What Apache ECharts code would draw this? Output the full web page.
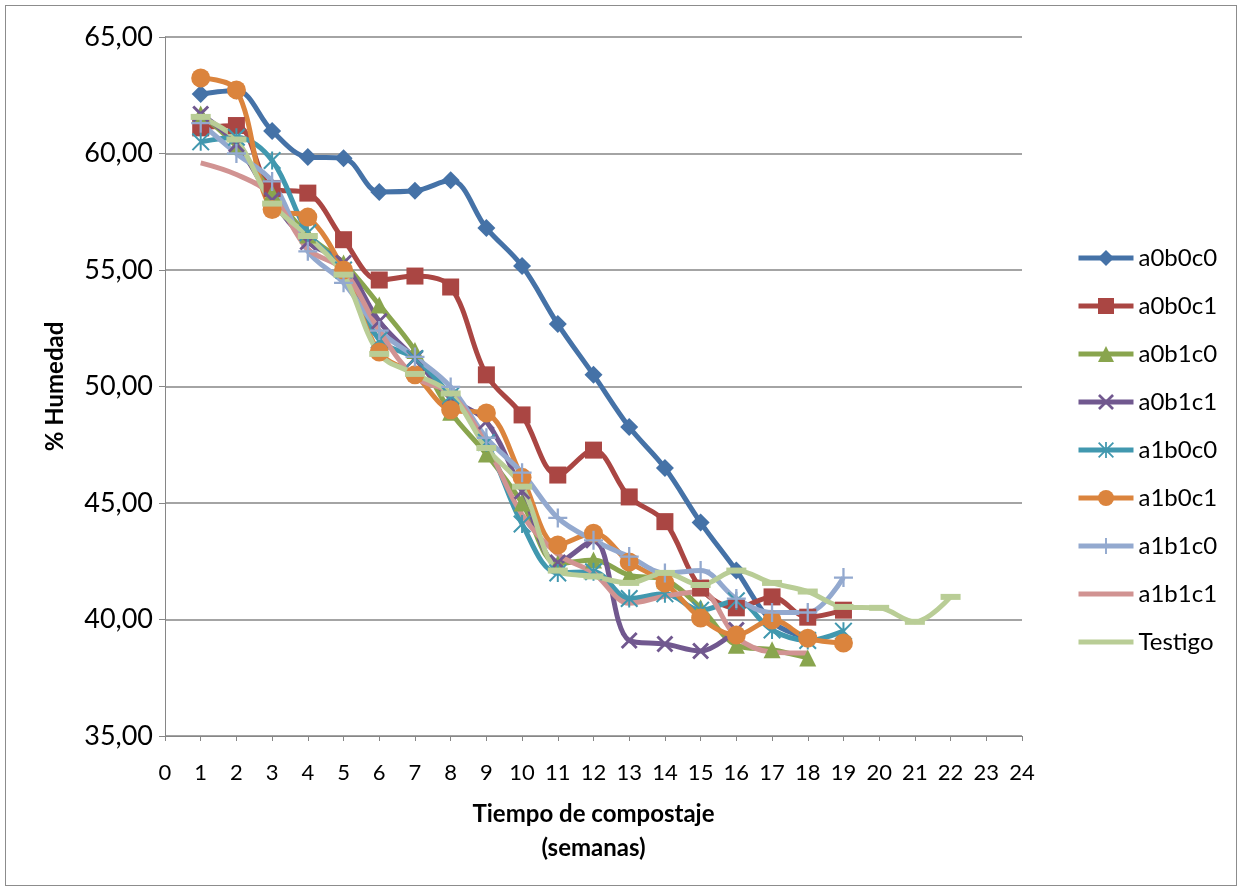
<!DOCTYPE html>
<html>
<head>
<meta charset="utf-8">
<script src="https://cdn.jsdelivr.net/npm/echarts@6/dist/echarts.min.js"></script>
<style>
  html, body { margin: 0; padding: 0; background: #fff; }
  #chart { position: absolute; left: 0; top: 0; width: 1240px; height: 890px; }
  #frame { position: absolute; left: 5px; top: 5px; width: 1230px; height: 879px; border: 1px solid #8c8c8c; pointer-events: none; }
</style>
</head>
<body>
<div id="chart"></div>
<div id="frame"></div>
<script>
// Weekly moisture readings (% Humedad) per treatment; index 0 = week 1
const weeks = [1,2,3,4,5,6,7,8,9,10,11,12,13,14,15,16,17,18,19,20,21,22];

const a0b0c0 = [62.55,62.70,60.97,59.85,59.80,58.35,58.40,58.85,56.80,55.17,52.68,50.50,48.26,46.50,44.16,42.10,39.90,39.20];
const a0b0c1 = [61.10,61.20,58.50,58.30,56.30,54.57,54.74,54.27,50.50,48.78,46.20,47.27,45.26,44.20,41.35,40.50,40.97,40.10,40.40];
const a0b1c0 = [61.70,60.30,58.30,56.50,55.30,53.50,51.55,48.90,47.10,45.00,42.40,42.55,41.90,41.70,40.50,38.90,38.70,38.35];
const a0b1c1 = [61.70,60.40,58.00,56.20,55.30,52.80,51.20,49.50,48.50,45.50,42.45,43.40,39.10,38.95,38.65,39.55];
const a1b0c0 = [60.50,60.70,59.70,56.60,55.00,52.00,51.20,49.60,47.60,44.10,42.00,42.05,40.90,41.10,40.40,40.80,39.55,39.10,39.50];
const a1b0c1 = [63.24,62.73,57.60,57.27,55.00,51.48,50.50,49.00,48.86,46.10,43.20,43.70,42.47,41.57,40.06,39.33,39.98,39.20,38.99];
const a1b1c0 = [61.30,60.00,58.80,55.80,54.45,52.40,51.27,49.98,47.80,46.30,44.36,43.40,42.70,42.00,42.10,40.90,40.30,40.30,41.80];
const a1b1c1 = [59.60,59.10,58.20,55.90,55.00,52.40,50.40,49.70,47.50,44.50,42.80,42.00,40.70,41.00,41.20,39.25,38.60,38.56];
const testigo = [61.57,60.60,57.85,56.46,54.80,51.40,50.54,49.70,47.36,45.70,42.10,41.85,41.57,42.00,41.48,42.10,41.57,41.20,40.54,40.50,39.90,40.97];

const seriesNames = ['a0b0c0','a0b0c1','a0b1c0','a0b1c1','a1b0c0','a1b0c1','a1b1c0','a1b1c1','Testigo'];
const seriesValues = [a0b0c0, a0b0c1, a0b1c0, a0b1c1, a1b0c0, a1b0c1, a1b1c0, a1b1c1, testigo];

const yTicks = [35, 40, 45, 50, 55, 60, 65];
const xTicks = [0,1,2,3,4,5,6,7,8,9,10,11,12,13,14,15,16,17,18,19,20,21,22,23,24];

// Marker shapes
const X_PATH = 'path://M0,1.2L1.2,0L5,3.8L8.8,0L10,1.2L6.2,5L10,8.8L8.8,10L5,6.2L1.2,10L0,8.8L3.8,5Z';
const PLUS_PATH = 'path://M4.4,0H5.6V4.4H10V5.6H5.6V10H4.4V5.6H0V4.4H4.4Z';
const STAR_PATH = 'path://M4.45,0H5.55V10H4.45Z M0.8,0L5,4.2L9.2,0L10,0.8L5.8,5L10,9.2L9.2,10L5,5.8L0.8,10L0,9.2L4.2,5L0,0.8Z';
const DASH_PATH = 'path://M0,0H20V6H0Z';
// Legend icon for entries shown as a plain line
const LINE_ICON = 'path://M0,0H55V5H0Z';

const styles = [
  { color: '#4572A7', symbol: 'diamond', size: 18 },
  { color: '#AA4643', symbol: 'rect', size: 17 },
  { color: '#89A54E', symbol: 'triangle', size: 17 },
  { color: '#71588F', symbol: X_PATH, size: 17 },
  { color: '#4198AF', symbol: STAR_PATH, size: 18 },
  { color: '#DB843D', symbol: 'circle', size: 19 },
  { color: '#93A9CF', symbol: PLUS_PATH, size: 19 },
  { color: '#D19392', symbol: 'none', size: 0 },
  { color: '#B9CD96', symbol: DASH_PATH, size: [20, 6] }
];

const FONT = 'Lato, "Open Sans", "Liberation Sans", sans-serif';

const series = seriesNames.map((name, i) => ({
  name: name,
  type: 'line',
  data: seriesValues[i].map((v, k) => [weeks[k], v]),
  smooth: 0.35,
  showSymbol: styles[i].symbol !== 'none',
  symbol: styles[i].symbol,
  symbolSize: styles[i].size,
  lineStyle: { color: styles[i].color, width: 5 },
  itemStyle: { color: styles[i].color, borderWidth: 0 },
  emphasis: { disabled: true },
  animation: false
}));

const legendData = seriesNames.map((name, i) =>
  (i >= 7) ? { name: name, icon: LINE_ICON } : { name: name }
);

const chart = echarts.init(document.getElementById('chart'), null, { renderer: 'canvas' });
chart.setOption({
  backgroundColor: '#ffffff',
  animation: false,
  grid: { left: 165, right: 218, top: 37, bottom: 154, containLabel: false },
  xAxis: {
    type: 'value',
    min: xTicks[0],
    max: xTicks[xTicks.length - 1],
    interval: 1,
    name: 'Tiempo de compostaje\n(semanas)',
    nameLocation: 'middle',
    nameGap: 61,
    nameTextStyle: { fontFamily: FONT, fontWeight: 'bold', fontSize: 24, color: '#000', lineHeight: 34 },
    axisLine: { lineStyle: { color: '#868686', width: 1 } },
    axisTick: { show: true, inside: false, length: 5, lineStyle: { color: '#868686' } },
    axisLabel: { fontFamily: FONT, fontSize: 22, color: '#000', margin: 26 },
    splitLine: { show: false }
  },
  yAxis: {
    type: 'value',
    min: yTicks[0],
    max: yTicks[yTicks.length - 1],
    interval: 5,
    name: '% Humedad',
    nameLocation: 'middle',
    nameGap: 98,
    nameRotate: 90,
    nameTextStyle: { fontFamily: FONT, fontWeight: 'bold', fontSize: 24, color: '#000' },
    axisLine: { show: true, lineStyle: { color: '#868686', width: 1 } },
    axisTick: { show: true, length: 6, lineStyle: { color: '#868686' } },
    axisLabel: {
      fontFamily: FONT, fontSize: 27, color: '#000', margin: 12,
      formatter: v => v.toFixed(2).replace('.', ',')
    },
    splitLine: { show: true, lineStyle: { color: '#868686', width: 1.5 } }
  },
  legend: {
    orient: 'vertical',
    left: 1076,
    top: 246,
    padding: 0,
    itemWidth: 55,
    itemHeight: 20,
    itemGap: 24,
    lineStyle: { width: 5 },
    textStyle: { fontFamily: FONT, fontSize: 24, lineHeight: 20, color: '#000' },
    data: legendData,
    selectedMode: false
  },
  series: series
});
</script>
</body>
</html>
